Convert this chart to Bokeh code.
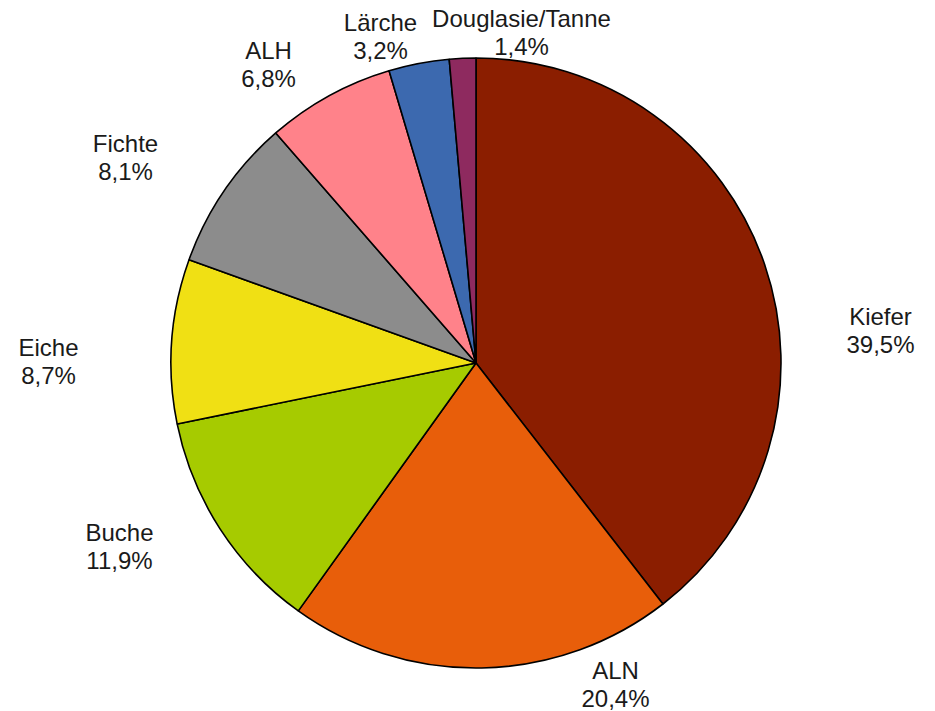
import math
from bokeh.plotting import figure
from bokeh.models import Range1d, ColumnDataSource
from bokeh.core.properties import value
from bokeh.embed import file_html
from bokeh.resources import INLINE

# --- data ---
species = ["Kiefer", "ALN", "Buche", "Eiche", "Fichte", "ALH", "Lärche", "Douglasie/Tanne"]
shares = [39.5, 20.4, 11.9, 8.7, 8.1, 6.8, 3.2, 1.4]
pct_labels = ["39,5%", "20,4%", "11,9%", "8,7%", "8,1%", "6,8%", "3,2%", "1,4%"]

# --- styles / layout ---
colors = ["#8B1E00", "#E85E0A", "#A6CB00", "#F0E014", "#8C8C8C", "#FF828A", "#3C69AF", "#8E2A5F"]
W, H = 935, 711
# label anchor positions in screen pixels (x center, y of first line)
label_pos = [(880, 316), (615, 670), (119, 532), (48, 347), (125, 143), (268, 50), (380, 22), (521, 18)]
line_gap = 28
cx_s, cy_s, R = 475.5, 362.5, 305.0

def sx(x):
    return x

def sy(y):
    return H - y

starts, ends = [], []
cum = 0.0
total = sum(shares)
for s in shares:
    starts.append(math.pi / 2 - 2 * math.pi * cum / total)
    cum += s
    ends.append(math.pi / 2 - 2 * math.pi * cum / total)

src = ColumnDataSource(dict(
    x=[sx(cx_s)] * len(shares), y=[sy(cy_s)] * len(shares),
    start=starts, end=ends, color=colors, name=species, share=shares,
))

p = figure(width=W, height=H, output_backend="svg", toolbar_location=None,
           x_range=Range1d(0, W), y_range=Range1d(0, H), min_border=0,
           outline_line_color=None, background_fill_color="white")
p.axis.visible = False
p.grid.visible = False

p.wedge(x="x", y="y", radius=R, start_angle="start", end_angle="end",
        direction="clock", fill_color="color", line_color="black",
        line_width=1.6, source=src)

lab = ColumnDataSource(dict(
    x=[sx(px) for px, py in label_pos],
    y1=[sy(py) for px, py in label_pos],
    y2=[sy(py + line_gap) for px, py in label_pos],
    name=species, pct=pct_labels,
))
for ycol, tcol in (("y1", "name"), ("y2", "pct")):
    p.text(x="x", y=ycol, text=tcol, source=lab, text_align="center",
           text_baseline="middle", text_font=value("Liberation Sans"),
           text_font_size="24px", text_color="#1a1a1a")

open("out.html", "w").write(file_html(p, INLINE))
